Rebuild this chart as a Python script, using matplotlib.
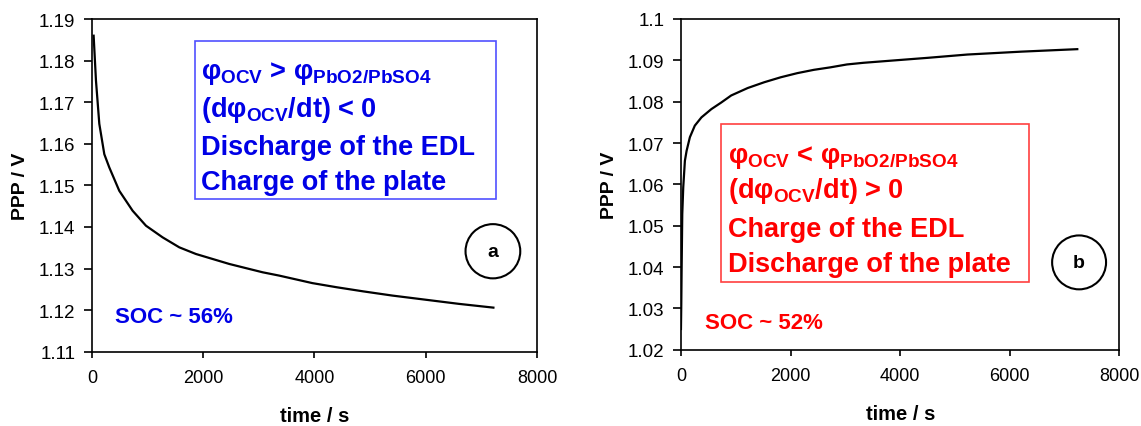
import matplotlib.pyplot as plt
from matplotlib.patches import Rectangle, Ellipse
from matplotlib.ticker import FuncFormatter

plt.rcParams['font.family'] = ['Liberation Sans', 'DejaVu Sans']
plt.rcParams['mathtext.fontset'] = 'custom'
plt.rcParams['mathtext.rm'] = 'Liberation Sans:bold'
plt.rcParams['mathtext.it'] = 'Liberation Sans:bold'
plt.rcParams['mathtext.bf'] = 'Liberation Sans:bold'

# panel a: discharge of the EDL
t_a = [30, 72, 132, 222, 312, 491, 731, 971, 1270, 1570, 1869, 2169, 2469,
       2768, 3068, 3367, 3961, 4400, 4882, 5400, 6000, 6600, 7217]
v_a = [1.1860, 1.1752, 1.1648, 1.1575, 1.1543, 1.1487, 1.1439, 1.1403,
       1.1375, 1.1351, 1.1335, 1.1323, 1.1311, 1.1301, 1.1291, 1.1283, 1.1265,
       1.1255, 1.1245, 1.1235, 1.1225, 1.1215, 1.1206]

# panel b: charge of the EDL
t_b = [0, 6, 12, 24, 42, 72, 103, 163, 253, 374, 555, 736, 917, 1218, 1520,
       1821, 2123, 2425, 2726, 3028, 3329, 3912, 4500, 5226, 6212, 7231]
v_b = [1.0250, 1.0310, 1.0391, 1.0528, 1.0593, 1.0657, 1.0681, 1.0714, 1.0742,
       1.0762, 1.0782, 1.0798, 1.0815, 1.0833, 1.0847, 1.0859, 1.0869, 1.0877,
       1.0883, 1.0890, 1.0894, 1.0900, 1.0906, 1.0914, 1.0921, 1.0927]

blue = '#0000e6'
red = '#ff0000'

fig = plt.figure(figsize=(11.41, 4.27), dpi=100)
ax_a = fig.add_axes([0.0806, 0.174, 0.390, 0.779])
ax_b = fig.add_axes([0.5968, 0.1787, 0.3843, 0.7745])

ax_a.plot(t_a, v_a, color='black', linewidth=1.6)
ax_b.plot(t_b, v_b, color='black', linewidth=1.6)

ax_a.set_ylim(1.11, 1.19)
ax_b.set_ylim(1.02, 1.10)
ax_a.set_yticks([1.11, 1.12, 1.13, 1.14, 1.15, 1.16, 1.17, 1.18, 1.19])
ax_b.set_yticks([1.02, 1.03, 1.04, 1.05, 1.06, 1.07, 1.08, 1.09, 1.10])

for ax in (ax_a, ax_b):
    ax.set_xlim(0, 8000)
    ax.set_xticks([0, 2000, 4000, 6000, 8000])
    ax.yaxis.set_major_formatter(FuncFormatter(lambda v, p: '%g' % round(v, 2)))
    ax.tick_params(axis='x', direction='out', length=4.5, width=1.2,
                   labelsize=13, pad=8)
    ax.tick_params(axis='y', direction='out', length=6, width=1.2,
                   labelsize=13.5, pad=6)
    for s in ax.spines.values():
        s.set_linewidth(1.2)
    ax.set_xlabel('time / s', fontsize=14.5, fontweight='bold', labelpad=14)
    ax.set_ylabel('PPP / V', fontsize=14, fontweight='bold', labelpad=7)

# text boxes
ax_a.add_patch(Rectangle((0.231, 0.459), 0.678, 0.475, transform=ax_a.transAxes,
                         fill=False, edgecolor='#5050ff', linewidth=1.2))
lines_a = [r'$φ_{\mathrm{OCV}}$ > $φ_{\mathrm{PbO2/PbSO4}}$',
           r'(d$φ_{\mathrm{OCV}}$/dt) < 0',
           'Discharge of the EDL',
           'Charge of the plate']
ys_a = [0.822, 0.71, 0.595, 0.489]
for s, y in zip(lines_a, ys_a):
    ax_a.text(0.246, y, s, transform=ax_a.transAxes, color=blue, fontsize=19.5,
              fontweight='bold', va='baseline', ha='left')

ax_b.add_patch(Rectangle((0.092, 0.204), 0.701, 0.477, transform=ax_b.transAxes,
                         fill=False, edgecolor='#ff4040', linewidth=1.2))
lines_b = [r'$φ_{\mathrm{OCV}}$ < $φ_{\mathrm{PbO2/PbSO4}}$',
           r'(d$φ_{\mathrm{OCV}}$/dt) > 0',
           'Charge of the EDL',
           'Discharge of the plate']
ys_b = [0.568, 0.462, 0.343, 0.237]
for s, y in zip(lines_b, ys_b):
    ax_b.text(0.108, y, s, transform=ax_b.transAxes, color=red, fontsize=19.5,
              fontweight='bold', va='baseline', ha='left')

ax_a.text(0.052, 0.088, 'SOC ~ 56%', transform=ax_a.transAxes, color=blue,
          fontsize=16, fontweight='bold', va='baseline')
ax_b.text(0.054, 0.067, 'SOC ~ 52%', transform=ax_b.transAxes, color=red,
          fontsize=16, fontweight='bold', va='baseline')

# panel labels in circles
for ax, cx, cy, lab in ((ax_a, 0.901, 0.302, 'a'), (ax_b, 0.908, 0.264, 'b')):
    ax.add_patch(Ellipse((cx, cy), 0.123, 0.163, transform=ax.transAxes,
                         fill=False, edgecolor='black', linewidth=1.5))
    ax.text(cx, cy, lab, transform=ax.transAxes, fontsize=14,
            fontweight='bold', ha='center', va='center')

fig.savefig('out.png', dpi=100)
